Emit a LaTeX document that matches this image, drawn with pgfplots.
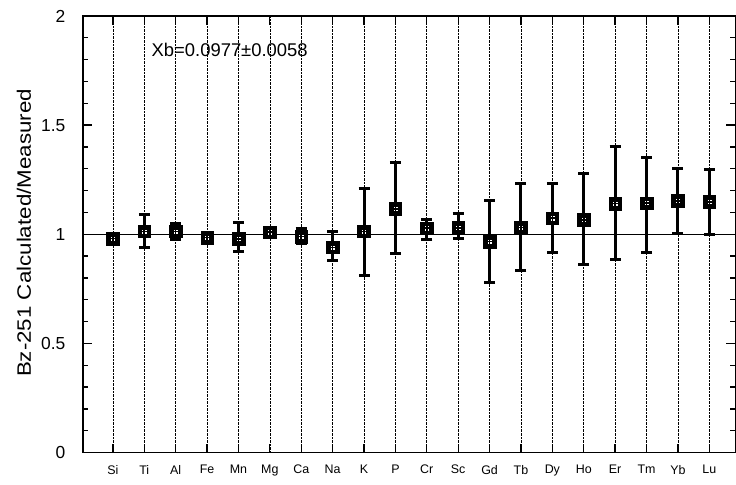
\documentclass[border=0pt]{standalone}
\usepackage{fontspec}
\setmainfont{Liberation Sans}
\usepackage{graphicx}
\usepackage{pgfplots}
\usepackage{pgfplotstable}
\pgfplotsset{compat=1.18}
\pgfplotstableread{
x y ep em
0 0.980 0.005 0.005
1 1.013 0.077 0.073
2 1.013 0.037 0.038
3 0.985 0.005 0.005
4 0.979 0.077 0.059
5 1.010 0.005 0.005
6 0.990 0.038 0.030
7 0.940 0.073 0.060
8 1.013 0.197 0.203
9 1.117 0.213 0.203
10 1.028 0.042 0.050
11 1.030 0.064 0.050
12 0.967 0.186 0.187
13 1.031 0.201 0.197
14 1.074 0.158 0.156
15 1.066 0.214 0.203
16 1.141 0.259 0.258
17 1.143 0.208 0.225
18 1.153 0.147 0.148
19 1.149 0.148 0.148
}\datatable
\begin{document}
\begin{tikzpicture}
\begin{axis}[
  scale only axis,
  width=653bp, height=437bp,
  xmin=-0.955, xmax=19.83,
  ymin=0, ymax=2,
  axis line style={line width=1.3bp},
  xtick={0,...,19},
  xticklabels={Si,Ti,Al,Fe,Mn,Mg,Ca,Na,K,P,Cr,Sc,Gd,Tb,Dy,Ho,Er,Tm,Yb,Lu},
  ytick={0,0.5,1,1.5,2},
  yticklabels={0,0.5,1,1.5,2},
  minor y tick num=4,
  tick align=inside,
  xtick pos=both, ytick pos=both,
  major tick length=9bp, minor tick length=5bp,
  tick style={line width=1.3bp, black},
  xmajorgrids,
  major grid style={densely dotted, black, line width=0.6bp},
  x tick label style={font=\fontsize{12.5}{13}\selectfont, yshift=-9bp},
  y tick label style={font=\fontsize{17.5}{18}\selectfont, xshift=-14bp},
  /pgf/number format/assume math mode=true,
  ylabel={\scalebox{1.15}[1]{\fontsize{19.5}{20}\selectfont Bz-251 Calculated/Measured}},
  ylabel style={at={(axis description cs:0,0.503)}, anchor=center, rotate=0, yshift=59bp},
  clip=false,
]
\addplot[black, line width=1.3bp, forget plot] coordinates {(-0.955,1) (19.83,1)};
\addplot[
  only marks, black,
  mark=square*, mark size=6.3bp,
  mark options={fill=black, line width=0.5bp},
  error bars/.cd,
    y dir=both, y explicit,
    error bar style={line width=3bp, black},
    error mark options={rotate=90, mark size=5.5bp, line width=3bp, black},
] table[x=x, y=y, y error plus=ep, y error minus=em] {\datatable};
\addplot[only marks, mark=square*, mark size=2.6bp, mark options={fill=white, draw=none}]
  table[x=x, y=y] {\datatable};
\addplot[only marks, mark=+, mark size=2.8bp, mark options={black, line width=1.6bp}]
  table[x=x, y=y] {\datatable};
\node[font=\fontsize{18.5}{19}\selectfont] at (axis cs:3.72,1.845) {Xb=0.0977±0.0058};
\end{axis}
\path (current axis.south west) ++(-83bp,-32bp) coordinate (bbsw);
\path (current axis.north east) ++(0bp,16bp) coordinate (bbne);
\path (bbsw) rectangle (bbne);
\end{tikzpicture}
\end{document}
